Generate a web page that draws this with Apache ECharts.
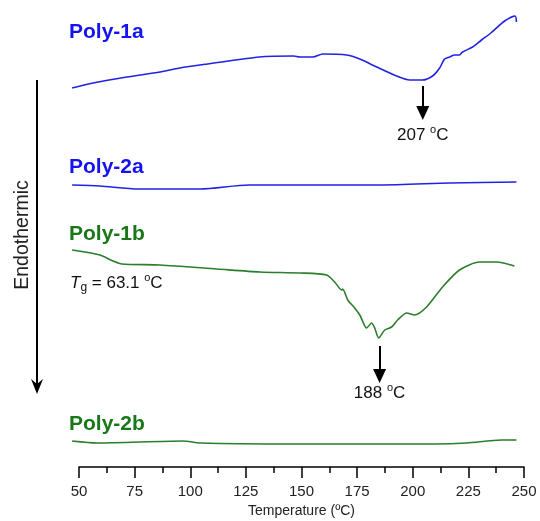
<!DOCTYPE html>
<html><head><meta charset="utf-8">
<script src="https://cdn.jsdelivr.net/npm/echarts@6/dist/echarts.min.js"></script>
<style>html,body{margin:0;padding:0;background:#fff}#c{width:540px;height:521px}</style>
</head><body><div id="c"></div>
<script>
// Temperature (°C) and heat flow (arbitrary units, curves offset vertically)
const t1a = [46.9,56.3,71.5,86.4,95.3,107.7,131.0,146.5,149.2,155.1,159.6,170.3,176.2,183.8,192.8,198.6,204.4,208.9,212.1,214.3,216.6,218.8,221.0,222.4,226.9,230.9,235.1,241.3,246.0,246.6];
const h1a = [37.9,38.4,39.0,39.5,39.9,40.3,41.0,41.1,41.0,41.0,41.3,41.2,40.8,40.0,39.1,38.7,38.7,39.1,39.9,40.8,41.0,41.2,41.2,41.5,42.0,42.7,43.4,44.6,45.1,44.5];
const t2a = [46.9,59.4,76.7,104.6,126.3,158.2,185.4,216.6,246.6];
const h2a = [28.2,28.1,27.8,27.8,28.2,28.2,28.2,28.4,28.5];
const t1b = [46.9,59.4,65.3,69.3,86.4,112.0,131.3,149.2,161.3,164.9,168.1,168.5,170.8,173.9,176.2,179.3,181.5,182.9,184.7,187.4,190.5,193.2,197.3,200.8,206.2,213.4,221.0,230.0,237.7,245.7];
const h1b = [21.7,21.2,20.6,20.3,20.2,19.8,19.5,19.4,19.2,18.5,17.7,17.8,16.7,15.9,15.2,13.9,14.4,13.9,12.9,13.7,14.0,14.7,15.4,15.2,16.0,18.0,19.7,20.5,20.5,20.1];
const t2b = [46.9,58.1,96.7,104.6,144.7,210.3,224.2,239.9,246.6];
const h2b = [2.6,2.4,2.6,2.4,2.3,2.3,2.4,2.7,2.7];
const names = ['Poly-1a','Poly-2a','Poly-1b','Poly-2b'];
const xTicks = [50,75,100,125,150,175,200,225,250];
const dataTMin = 45; // data range starts slightly below the first tick
const peak1a = '207', peak1b = '188', tgValue = '63.1';

const FONT = '"Liberation Sans", Arial, sans-serif';
const BLUE_T = '#1414F0', BLUE_L = '#2222E6', GREEN_T = '#187818', GREEN_L = '#2B7E2B';
const zip = (a, b) => a.map((v, i) => [v, b[i]]);

const G_LEFT = 79, G_RIGHT = 16, G_TOP = 0, G_BOTTOM = 54, W = 540;
const tMin = xTicks[0], tMax = xTicks[xTicks.length - 1];
const pxPerDeg = (W - G_LEFT - G_RIGHT) / (tMax - tMin);
const dataLeft = G_LEFT - (tMin - dataTMin) * pxPerDeg;

const richPeak = {
  n: {fontSize: 17, lineHeight: 22, color: '#111', fontFamily: FONT},
  s: {fontSize: 11, lineHeight: 11, verticalAlign: 'top', color: '#111', fontFamily: FONT}
};
function peakMarks(T, yTop, yHead, yLabel, label) {
  return {
    markLine: {
      silent: true, symbol: ['none', 'triangle'], symbolSize: [13, 14],
      label: {show: false},
      lineStyle: {color: '#000', width: 2, type: 'solid'},
      data: [[{coord: [T, yTop]}, {coord: [T, yHead]}]]
    },
    markPoint: {
      silent: true, symbol: 'circle', symbolSize: 1,
      itemStyle: {color: 'rgba(0,0,0,0)'},
      label: {show: true, position: 'inside', formatter: '{n|' + label + ' }{s|o}{n|C}', rich: richPeak},
      data: [{coord: [T, yLabel]}]
    }
  };
}

const chart = echarts.init(document.getElementById('c'), null, {renderer: 'canvas'});
const base = {type: 'line', showSymbol: false, smooth: 0.25, animation: false, xAxisIndex: 1, yAxisIndex: 1};
chart.setOption({
  animation: false,
  grid: [
    {left: G_LEFT, right: G_RIGHT, top: G_TOP, bottom: G_BOTTOM, outerBoundsMode: 'none'},
    {left: dataLeft, right: G_RIGHT, top: G_TOP, bottom: G_BOTTOM, outerBoundsMode: 'none'}
  ],
  xAxis: [{
    gridIndex: 0, type: 'value', min: tMin, max: tMax, interval: 25,
    axisLine: {lineStyle: {color: '#000', width: 1.5}},
    axisTick: {length: 11, lineStyle: {color: '#000', width: 1.5}},
    minorTick: {show: true, splitNumber: 2, length: 6, lineStyle: {color: '#000', width: 1.5}},
    splitLine: {show: false}, minorSplitLine: {show: false},
    axisLabel: {fontSize: 15, color: '#222', margin: 17, fontFamily: FONT},
    name: 'Temperature (ºC)', nameLocation: 'middle', nameGap: 37,
    nameTextStyle: {fontSize: 14, color: '#222', fontFamily: FONT}
  }, {
    gridIndex: 1, type: 'value', min: dataTMin, max: tMax, show: false
  }],
  yAxis: [
    {gridIndex: 0, type: 'value', min: 0, max: 46.7, show: false},
    {gridIndex: 1, type: 'value', min: 0, max: 46.7, show: false}
  ],
  series: [
    Object.assign({}, base, {name: names[0], data: zip(t1a, h1a), lineStyle: {color: BLUE_L, width: 1.6}, itemStyle: {color: BLUE_L}},
      peakMarks(204.5, 38.1, 35.4, 33.2, peak1a)),
    Object.assign({}, base, {name: names[1], data: zip(t2a, h2a), lineStyle: {color: BLUE_L, width: 1.6}, itemStyle: {color: BLUE_L}}),
    Object.assign({}, base, {name: names[2], data: zip(t1b, h1b), lineStyle: {color: GREEN_L, width: 1.6}, itemStyle: {color: GREEN_L}},
      peakMarks(185.1, 12.1, 9.1, 7.4, peak1b)),
    Object.assign({}, base, {name: names[3], data: zip(t2b, h2b), lineStyle: {color: GREEN_L, width: 1.6}, itemStyle: {color: GREEN_L}})
  ],
  graphic: [
    {type: 'text', x: 69, y: 32.5, style: {text: names[0], font: 'bold 21px ' + FONT, fill: BLUE_T, verticalAlign: 'middle'}},
    {type: 'text', x: 69, y: 167, style: {text: names[1], font: 'bold 21px ' + FONT, fill: BLUE_T, verticalAlign: 'middle'}},
    {type: 'text', x: 69, y: 234, style: {text: names[2], font: 'bold 21px ' + FONT, fill: GREEN_T, verticalAlign: 'middle'}},
    {type: 'text', x: 69, y: 424, style: {text: names[3], font: 'bold 21px ' + FONT, fill: GREEN_T, verticalAlign: 'middle'}},
    {type: 'text', x: 70, y: 283, style: {
      text: '{i|T}{g|g}{n| = ' + tgValue + ' }{s|o}{n|C}', verticalAlign: 'middle',
      rich: {
        i: {fontSize: 17, lineHeight: 22, fontStyle: 'italic', fontFamily: FONT, fill: '#111'},
        g: {fontSize: 12, lineHeight: 12, verticalAlign: 'bottom', fontFamily: FONT, fill: '#111'},
        n: {fontSize: 17, lineHeight: 22, fontFamily: FONT, fill: '#111'},
        s: {fontSize: 11, lineHeight: 11, verticalAlign: 'top', fontFamily: FONT, fill: '#111'}
      }}},
    {type: 'text', x: 23, y: 235, rotation: Math.PI / 2, style: {text: 'Endothermic', font: '19.5px ' + FONT, fill: '#222', align: 'center', verticalAlign: 'middle'}},
    {type: 'line', shape: {x1: 37, y1: 80, x2: 37, y2: 388}, style: {stroke: '#000', lineWidth: 2}},
    {type: 'polygon', shape: {points: [[31, 379], [37, 394], [43, 379], [37, 384]]}, style: {fill: '#000'}}
  ]
});
</script></body></html>
